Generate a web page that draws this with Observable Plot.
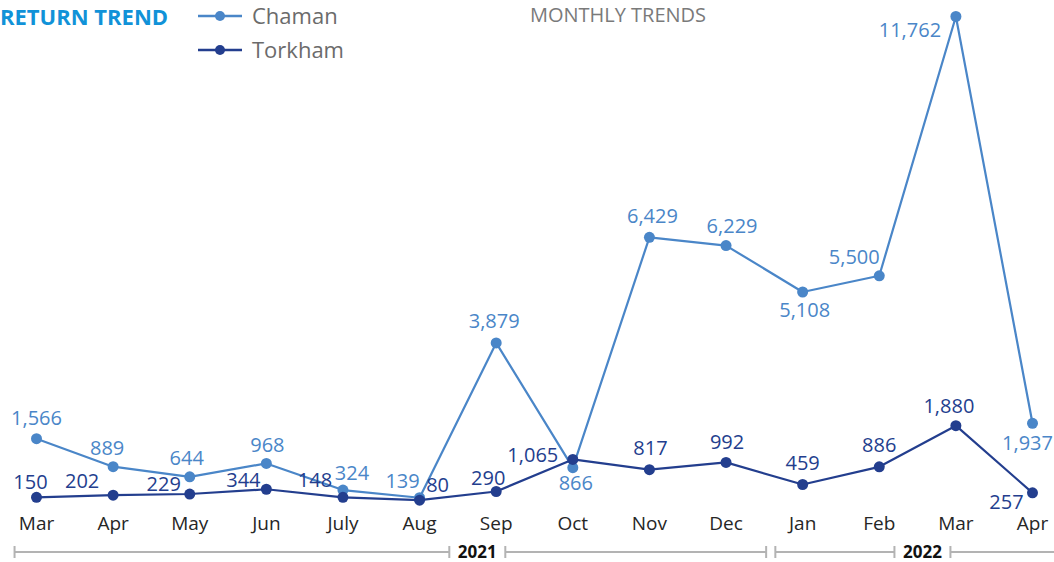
<!DOCTYPE html>
<html>
<head>
<meta charset="utf-8">
<script src="https://cdn.jsdelivr.net/npm/d3@7"></script>
<script src="https://cdn.jsdelivr.net/npm/@observablehq/plot@0.6"></script>
<style>
  body { margin: 0; background: #fff; font-family: "Open Sans", sans-serif; }
  #wrap { position: relative; width: 1054px; height: 562px; overflow: hidden; }
</style>
</head>
<body>
<div id="wrap"></div>
<script>
// ---- data ----
const months = ["Mar", "Apr", "May", "Jun", "July", "Aug", "Sep", "Oct", "Nov", "Dec", "Jan", "Feb", "Mar", "Apr"];
const chaman = [1566, 889, 644, 968, 324, 139, 3879, 866, 6429, 6229, 5108, 5500, 11762, 1937];
const torkham = [150, 202, 229, 344, 148, 80, 290, 1065, 817, 992, 459, 886, 1880, 257];
const seriesNames = ["Chaman", "Torkham"];
const years = ["2021", "2022"];
const title = "RETURN TREND";
const subtitle = "MONTHLY TRENDS";

// ---- presentation ----
const colors = { Chaman: "#4a86c8", Torkham: "#233e8e" };
const labelOffsets = {
  Chaman: [[0,-20],[-6,-18],[-3,-18],[1,-18],[9,-16],[-17,-16],[-2,-21],[3,16],[3,-21],[6,-19],[2,19],[-25,-18],[-46,14],[-5,20]],
  Torkham: [[-6,-15],[-31,-14],[-26,-9],[-23,-9],[-28,-17],[18,-15],[-8,-13],[-40,-4],[1,-21],[1,-20],[0,-21],[0,-21],[-7,-19],[-26,10]]
};
// year bracket spans in month-index units
const yearSpans = [
  { from: -0.28, to: 9.53, at: 5.76 },
  { from: 9.65, to: 13.8, at: 11.57 }
];

const rows = [];
seriesNames.forEach((s, k) => {
  const vals = k === 0 ? chaman : torkham;
  vals.forEach((v, i) => rows.push({ series: s, i, month: months[i], value: v,
    dx: labelOffsets[s][i][0], dy: labelOffsets[s][i][1] }));
});

const fmt = d3.format(",");
const marks = [];
for (const s of seriesNames) {
  const r = rows.filter(d => d.series === s);
  marks.push(Plot.line(r, { x: "i", y: "value", stroke: colors[s], strokeWidth: 2.2 }));
  marks.push(Plot.dot(r, { x: "i", y: "value", r: 5.5, fill: colors[s], stroke: "none" }));
}
for (const [, g] of d3.groups(rows, d => `${d.series}|${d.dx}|${d.dy}`)) {
  marks.push(Plot.text(g, { x: "i", y: "value", text: d => fmt(d.value),
    dx: g[0].dx, dy: g[0].dy, fill: colors[g[0].series], fontSize: 20 }));
}
marks.push(Plot.axisX(d3.range(months.length), {
  tickFormat: i => months[i], tickSize: 0, tickPadding: 13, fontSize: 19, fill: "#262626", label: null
}));

const chart = Plot.plot({
  width: 1054,
  height: 562,
  marginTop: 16,
  marginBottom: 59,
  marginLeft: 36,
  marginRight: 22,
  x: { domain: [0, months.length - 1], axis: null, label: null },
  y: { domain: [0, d3.max(chaman)], axis: null, label: null },
  style: { fontFamily: "Open Sans, sans-serif", fontSize: "19px", background: "#fff", overflow: "visible" },
  marks
});
document.getElementById("wrap").appendChild(chart);

// ---- decorations: title, subtitle, legend, year brackets ----
const svg = d3.select(chart);
const X = v => chart.scale("x").apply(v);

svg.append("text").attr("x", 0).attr("y", 25).attr("text-anchor", "start")
  .attr("font-family", "Open Sans, sans-serif").attr("font-weight", 700)
  .attr("font-size", 22).attr("fill", "#1192d8").text(title);

svg.append("text").attr("x", 618).attr("y", 22).attr("text-anchor", "middle")
  .attr("font-family", "Open Sans, sans-serif").attr("font-size", 20)
  .attr("fill", "#7a7a7a").text(subtitle);

const leg = svg.append("g");
seriesNames.forEach((s, k) => {
  const y = 16 + k * 34;
  leg.append("line").attr("x1", 198).attr("x2", 242).attr("y1", y).attr("y2", y)
    .attr("stroke", colors[s]).attr("stroke-width", 2.5);
  leg.append("circle").attr("cx", 220).attr("cy", y).attr("r", 5).attr("fill", colors[s]);
  leg.append("text").attr("x", 252).attr("y", y + 8).attr("text-anchor", "start")
    .attr("font-family", "Open Sans, sans-serif").attr("font-size", 22)
    .attr("fill", "#6b6b6b").text(s);
});

const by = 552, gap = 28;
const br = svg.append("g").attr("stroke", "#b3b3b3").attr("stroke-width", 2);
years.forEach((yr, k) => {
  const sp = yearSpans[k];
  const cx = X(sp.at);
  const segs = [[X(sp.from), cx - gap], [cx + gap, X(sp.to)]];
  for (const [a, b] of segs) {
    br.append("line").attr("x1", a).attr("x2", b).attr("y1", by).attr("y2", by);
    br.append("line").attr("x1", a).attr("x2", a).attr("y1", by - 6).attr("y2", by + 6);
    br.append("line").attr("x1", b).attr("x2", b).attr("y1", by - 6).attr("y2", by + 6);
  }
  svg.append("text").attr("x", cx).attr("y", by + 6).attr("text-anchor", "middle")
    .attr("font-family", "Open Sans, sans-serif").attr("font-weight", 700)
    .attr("font-size", 17).attr("fill", "#111").text(yr);
});
</script>
</body>
</html>
